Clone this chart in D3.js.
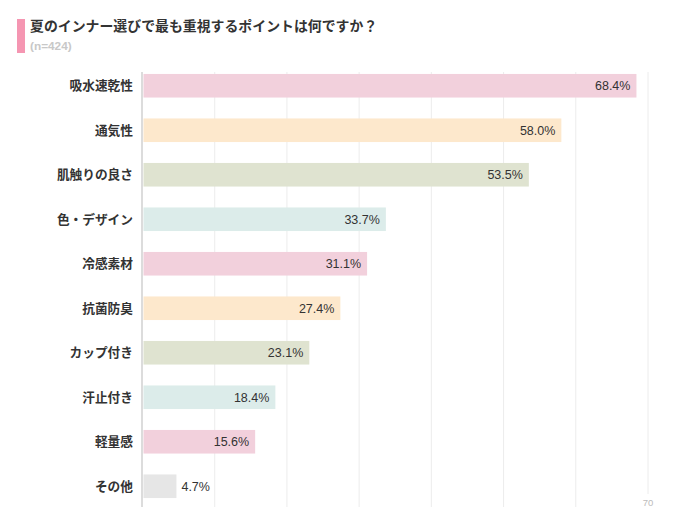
<!DOCTYPE html>
<html><head><meta charset="utf-8">
<script src="https://cdn.jsdelivr.net/npm/d3@7"></script>
<style>
html,body{margin:0;padding:0;background:#fff;}
svg{display:block;}
</style></head>
<body>
<svg id="chart" width="700" height="519"></svg>
<script>
const categories = ["吸水速乾性","通気性","肌触りの良さ","色・デザイン","冷感素材","抗菌防臭","カップ付き","汗止付き","軽量感","その他"];
const values = [68.4,58.0,53.5,33.7,31.1,27.4,23.1,18.4,15.6,4.7];
const barColors = ["#f2d0dc","#fde8cc","#dfe3d0","#dcecea","#f2d0dc","#fde8cc","#dfe3d0","#dcecea","#f2d0dc","#e6e6e6"];
const gridTicks = [0,10,20,30,40,50,60,70];
const shownTickLabels = [70];
const titleText = "夏のインナー選びで最も重視するポイントは何ですか？";
const subtitleText = "(n=424)";

const svg = d3.select("#chart");
const jp = "'Noto Sans CJK JP','Noto Sans',sans-serif";
const num = "'Liberation Sans',Arial,sans-serif";

// title
svg.append("rect").attr("x",17).attr("y",19).attr("width",8).attr("height",34).attr("fill","#f596b2");
svg.append("text").attr("x",30).attr("y",30.5).text(titleText)
  .attr("font-family",jp).attr("font-weight","bold").attr("font-size",13.9).attr("fill","#333");
svg.append("text").attr("x",30).attr("y",50).text(subtitleText)
  .attr("font-family",num).attr("font-weight","bold").attr("font-size",11.8).attr("fill","#c8c8c8");

const x = d3.scaleLinear().domain([0,70]).range([142.5,648]);
const y = d3.scaleBand().domain(categories).range([63.5,508.5]).paddingInner(0.47).paddingOuter(0.235);

// gridlines
svg.append("g").selectAll("line").data(gridTicks.filter(d=>d>0)).join("line")
  .attr("x1",d=>x(d)).attr("x2",d=>x(d))
  .attr("y1",72).attr("y2",d=>d===70?494:507)
  .attr("stroke","#ececec").attr("stroke-width",1);

// tick labels
svg.append("g").selectAll("text").data(shownTickLabels).join("text")
  .attr("x",d=>x(d)).attr("y",506).attr("text-anchor","middle")
  .attr("font-family",num).attr("font-size",9.5).attr("fill","#bbb").text(d=>d);

// bars
svg.append("g").selectAll("rect").data(values).join("rect")
  .attr("x",x(0)+1).attr("y",(d,i)=>y(categories[i]))
  .attr("width",d=>x(d)-x(0)-1).attr("height",y.bandwidth())
  .attr("fill",(d,i)=>barColors[i]);

// axis line
svg.append("line").attr("x1",142).attr("x2",142).attr("y1",72).attr("y2",507)
  .attr("stroke","#dcdcdc").attr("stroke-width",2);

// category labels
svg.append("g").selectAll("text").data(categories).join("text")
  .attr("x",133).attr("y",d=>y(d)+y.bandwidth()/2).attr("dy","0.36em")
  .attr("text-anchor","end").attr("font-family",jp).attr("font-weight","bold")
  .attr("font-size",12.7).attr("fill","#333").text(d=>d);

// value labels
svg.append("g").selectAll("text").data(values).join("text")
  .attr("x",d=> d<10 ? x(d)+5 : x(d)-6)
  .attr("y",(d,i)=>y(categories[i])+y.bandwidth()/2).attr("dy","0.36em")
  .attr("text-anchor",d=>d<10?"start":"end")
  .attr("font-family",num).attr("font-size",12.5).attr("fill","#333")
  .text(d=>d.toFixed(1)+"%");
</script>
</body></html>
